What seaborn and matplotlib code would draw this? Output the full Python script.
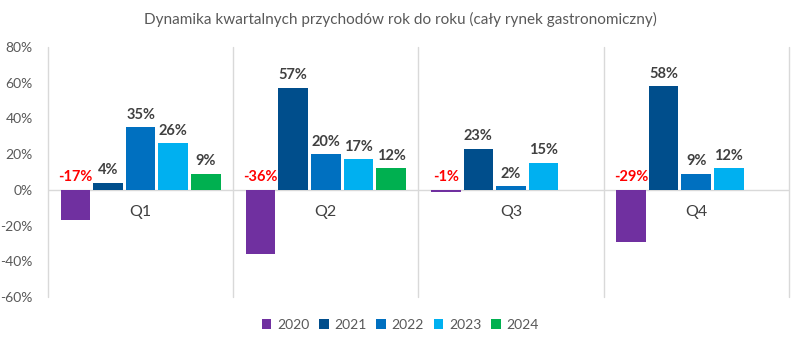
import matplotlib
matplotlib.use("Agg")
import matplotlib.pyplot as plt
import seaborn as sns
import pandas as pd
import numpy as np
from matplotlib.patches import Patch

quarters = ["Q1", "Q2", "Q3", "Q4"]
years = ["2020", "2021", "2022", "2023", "2024"]
values = {
    "2020": [-17, -36, -1, -29],
    "2021": [4, 57, 23, 58],
    "2022": [35, 20, 2, 9],
    "2023": [26, 17, 15, 12],
    "2024": [9, 12, np.nan, np.nan],
}
colors = ["#7030A0", "#004E8C", "#0070C0", "#00B0F0", "#00B050"]
title = "Dynamika kwartalnych przychodów rok do roku (cały rynek gastronomiczny)"
yticks = [-60, -40, -20, 0, 20, 40, 60, 80]

rows = []
for y in years:
    for q, v in zip(quarters, values[y]):
        rows.append({"quarter": q, "year": y, "value": v})
df = pd.DataFrame(rows)

sns.set_theme(style="white")
plt.rcParams["font.family"] = ["Lato", "DejaVu Sans"]

fig = plt.figure(figsize=(8, 3.45), dpi=100)
ax = fig.add_axes([0.06, 0.139, 0.926, 0.725])

sns.barplot(data=df, x="quarter", y="value", hue="year", order=quarters,
            hue_order=years, palette=colors, saturation=1, width=0.88, ax=ax,
            linewidth=0, legend=False, errorbar=None)

# small gap between neighbouring bars
for container in ax.containers:
    for bar in container:
        w = bar.get_width()
        gap = w * 0.09
        bar.set_x(bar.get_x() + gap / 2)
        bar.set_width(w - gap)

ax.set_ylim(-60, 80)
ax.set_xlim(-0.5, 3.5)
ax.set_yticks(yticks)
ax.set_yticklabels([f"{t}%" for t in yticks], color="#595959", fontsize=10)
ax.tick_params(axis="y", length=0, pad=11)
ax.set_xticks([])
ax.set_xlabel("")
ax.set_ylabel("")
for s in ax.spines.values():
    s.set_visible(False)

# separators between quarters and the zero line
for xv in [-0.5, 0.5, 1.5, 2.5, 3.5]:
    ax.plot([xv, xv], [-60, 80], color="#D9D9D9", lw=1, zorder=0, clip_on=False)
ax.axhline(0, color="#D9D9D9", lw=1, zorder=0)

# value labels
for container, y in zip(ax.containers, years):
    for bar, v in zip(container, values[y]):
        if np.isnan(v):
            continue
        xc = bar.get_x() + bar.get_width() / 2
        if v >= 0:
            ax.annotate(f"{v:.0f}%", (xc, v), xytext=(0, 4), textcoords="offset points",
                        ha="center", va="bottom", fontsize=10.5, fontweight="bold",
                        color="#404040")
        else:
            ax.annotate(f"{v:.0f}%", (xc, 0), xytext=(0, 4), textcoords="offset points",
                        ha="center", va="bottom", fontsize=10.5, fontweight="bold",
                        color="#FF0000")

# quarter names just below the zero line
for i, q in enumerate(quarters):
    ax.annotate(q, (i, 0), xytext=(0, -16), textcoords="offset points",
                ha="center", va="center", fontsize=11.5, color="#404040")

fig.text(0.5, 0.945, title, ha="center", va="center", fontsize=11, color="#595959")

handles = [Patch(facecolor=c, edgecolor="none") for c in colors]
fig.legend(handles, years, loc="center", bbox_to_anchor=(0.5, 0.058), ncol=5,
           frameon=False, fontsize=10, handlelength=0.7, handleheight=0.7,
           handletextpad=0.4, columnspacing=0.7, labelcolor="#595959")

fig.savefig("out.png", dpi=100)
